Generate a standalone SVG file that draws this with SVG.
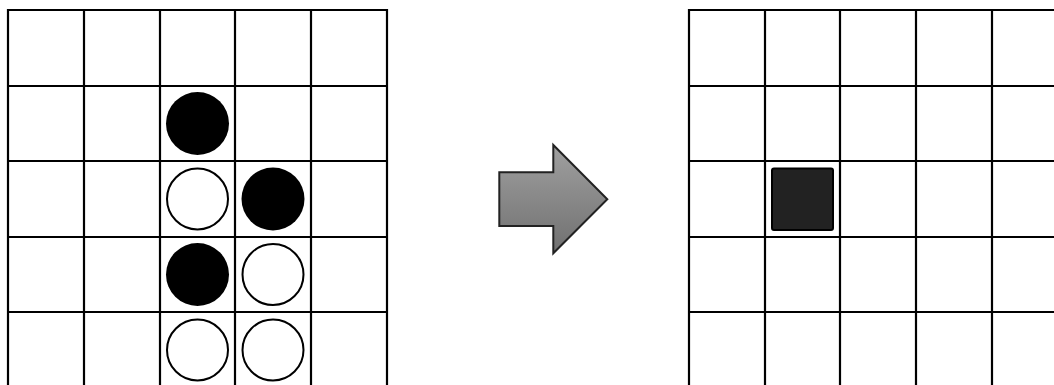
<svg xmlns="http://www.w3.org/2000/svg" width="1054" height="385" viewBox="0 0 1054 385">
<defs>
<style>
.grid{stroke:#000;stroke-width:2.2;fill:none;stroke-linecap:square}
.black{fill:#000;stroke:none}
.white{fill:#fff;stroke:#000;stroke-width:2}
</style>
<linearGradient id="ag" x1="0" y1="0" x2="0" y2="1">
<stop offset="0" stop-color="#a0a0a0"/>
<stop offset="1" stop-color="#707070"/>
</linearGradient>
</defs>
<rect width="1054" height="385" fill="#fff"/>
<g id="left-board">
<path class="grid" d="M8 10V390M84 10V390M160 10V390M235 10V390M311 10V390M387 10V390M8 10H387M8 86H387M8 161H387M8 237H387M8 312H387"/>
</g>
<g id="stones">
<circle class="black" cx="197.5" cy="123.5" r="31.5"/>
<circle class="white" cx="197.5" cy="199" r="30.5"/>
<circle class="black" cx="273" cy="199" r="31.5"/>
<circle class="black" cx="197.5" cy="274.5" r="31.5"/>
<circle class="white" cx="273" cy="274.5" r="30.5"/>
<circle class="white" cx="197.5" cy="350" r="30.5"/>
<circle class="white" cx="273" cy="350" r="30.5"/>
</g>
<g id="arrow">
<polygon points="499.3,172.3 553.3,172.3 553.3,145 607.3,199.3 553.3,253.3 553.3,226 499.3,226" fill="url(#ag)" stroke="#222" stroke-width="2" stroke-linejoin="miter"/>
</g>
<g id="right-board">
<path class="grid" d="M689 10V390M765 10V390M840 10V390M916 10V390M992 10V390M689 10H1060M689 86H1060M689 161H1060M689 237H1060M689 312H1060"/>
</g>
<g id="marker">
<rect x="772" y="168.5" width="61" height="61.5" rx="2" fill="#222" stroke="#000" stroke-width="2"/>
</g>
</svg>
